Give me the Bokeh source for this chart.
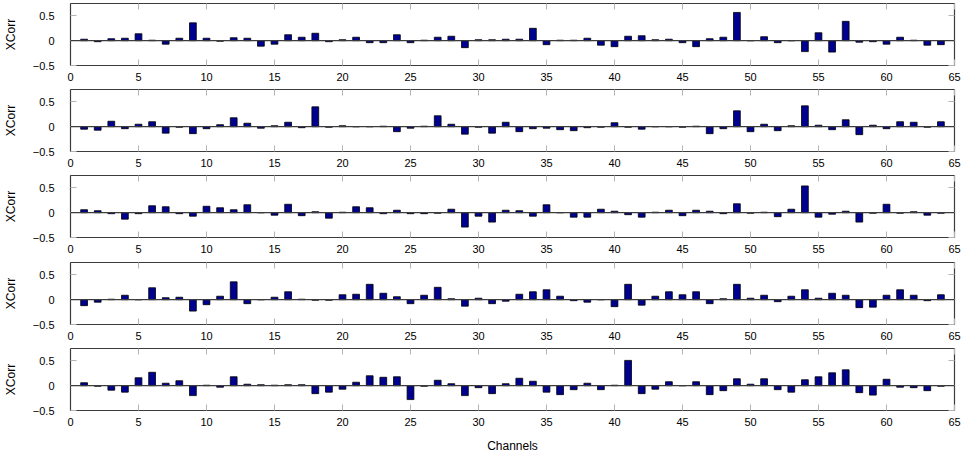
from bokeh.plotting import figure
from bokeh.layouts import column
from bokeh.models import Range1d, FixedTicker, LinearAxis, Span
from bokeh.embed import file_html
from bokeh.resources import INLINE

channels = list(range(1, 65))

xcorr_1 = [0.03, -0.02, 0.04, 0.05, 0.14, 0.01, -0.07, 0.05, 0.36, 0.05,
           -0.01, 0.06, 0.05, -0.11, -0.07, 0.12, 0.07, 0.15, -0.02, 0.02,
           0.07, -0.04, -0.04, 0.12, -0.04, 0.01, 0.07, 0.09, -0.14, 0.02,
           0.02, 0.03, 0.03, 0.25, -0.08, 0.01, 0.01, 0.05, -0.09, -0.12,
           0.09, 0.10, 0.02, 0.03, -0.04, -0.12, 0.04, 0.07, 0.57, 0.00,
           0.08, -0.04, 0.00, -0.22, 0.16, -0.23, 0.39, -0.03, -0.02, -0.07,
           0.07, 0.01, -0.09, -0.08]

xcorr_2 = [-0.05, -0.07, 0.11, -0.04, 0.05, 0.10, -0.13, -0.01, -0.14, -0.04,
           0.04, 0.18, 0.07, -0.03, 0.02, 0.09, -0.02, 0.40, -0.01, 0.02,
           0.00, 0.00, 0.01, -0.10, -0.03, 0.01, 0.22, 0.05, -0.15, -0.01,
           -0.13, 0.09, -0.10, -0.04, -0.03, -0.06, -0.08, -0.02, -0.01, 0.08,
           -0.01, -0.05, 0.00, 0.00, -0.01, 0.01, -0.14, -0.04, 0.32, -0.10,
           0.05, -0.08, 0.02, 0.42, 0.03, -0.06, 0.14, -0.16, 0.03, -0.04,
           0.10, 0.09, -0.01, 0.10]

xcorr_3 = [0.06, 0.04, -0.02, -0.13, -0.02, 0.14, 0.12, -0.02, -0.07, 0.13,
           0.10, 0.06, 0.16, 0.00, -0.05, 0.17, -0.06, 0.02, -0.11, 0.01,
           0.12, 0.10, -0.02, 0.05, -0.02, -0.02, -0.01, 0.07, -0.29, -0.07,
           -0.19, 0.05, 0.04, -0.07, 0.16, 0.00, -0.09, -0.09, 0.07, 0.03,
           -0.04, -0.09, 0.01, 0.05, -0.06, 0.05, 0.03, -0.02, 0.18, -0.01,
           0.01, -0.08, 0.07, 0.54, -0.09, -0.03, 0.03, -0.19, -0.01, 0.17,
           -0.01, 0.02, -0.05, -0.01]

xcorr_4 = [-0.12, -0.05, 0.01, 0.09, 0.00, 0.24, 0.04, 0.05, -0.23, -0.10,
           0.07, 0.36, -0.08, 0.00, 0.05, 0.16, 0.01, -0.01, -0.01, 0.10,
           0.11, 0.31, 0.13, 0.06, -0.08, 0.09, 0.25, 0.02, -0.13, 0.03,
           -0.08, -0.03, 0.11, 0.16, 0.20, 0.07, -0.02, -0.05, 0.00, -0.14,
           0.31, -0.11, 0.07, 0.16, 0.10, 0.16, -0.08, 0.02, 0.31, 0.03,
           0.09, -0.04, 0.07, 0.20, 0.03, 0.13, 0.09, -0.16, -0.15, 0.09,
           0.20, 0.09, -0.02, 0.10]

xcorr_5 = [0.06, -0.01, -0.09, -0.13, 0.16, 0.27, 0.05, 0.10, -0.20, 0.01,
           -0.03, 0.18, 0.03, 0.02, 0.01, 0.02, 0.02, -0.16, -0.13, -0.07,
           0.07, 0.20, 0.17, 0.18, -0.28, -0.01, 0.11, 0.04, -0.20, -0.04,
           -0.16, 0.04, 0.15, 0.09, -0.13, -0.18, -0.08, 0.05, -0.08, 0.01,
           0.51, -0.16, -0.07, 0.08, 0.00, 0.08, -0.18, -0.10, 0.14, 0.03,
           0.14, -0.08, -0.13, 0.12, 0.18, 0.26, 0.32, -0.14, -0.19, 0.13,
           -0.03, -0.04, -0.10, -0.01]

series = [xcorr_1, xcorr_2, xcorr_3, xcorr_4, xcorr_5]

x_ticks = list(range(0, 66, 5))
y_ticks = [-0.5, 0, 0.5]
y_tick_labels = {-0.5: "\u22120.5", 0: "0", 0.5: "0.5"}
y_label = "XCorr"
x_label = "Channels"

FONT = "Liberation Sans"
EDGE = "#3c3c3c"
TICK = "#b4b4b4"
BAR = "#000090"

heights = [86, 86, 87, 86, 111]
FRAME_H = 62
TOP = 3

figs = []
for i, vals in enumerate(series):
    last = i == len(series) - 1
    h = heights[i]
    p = figure(width=964, height=h, output_backend="svg", toolbar_location=None,
               x_range=Range1d(0, 65), y_range=Range1d(-0.5, 0.75),
               min_border_left=67, min_border_right=10, min_border_top=TOP,
               min_border_bottom=(h - FRAME_H - TOP))
    p.grid.visible = False
    p.outline_line_color = EDGE
    p.outline_line_width = 1.2
    p.background_fill_color = "white"
    p.border_fill_color = "white"

    p.vbar(x=channels, top=vals, bottom=0, width=0.5,
           fill_color=BAR, line_color="black", line_width=0.8)
    p.add_layout(Span(location=0, dimension="width", line_color=EDGE, line_width=1.2))

    xa = p.xaxis[0]
    xa.ticker = FixedTicker(ticks=x_ticks)
    xa.major_tick_in = 6
    xa.major_tick_out = 0
    xa.major_tick_line_color = TICK
    xa.minor_tick_line_color = None
    xa.axis_line_color = EDGE
    xa.major_label_text_font = FONT
    xa.major_label_text_font_size = "11px"
    xa.major_label_text_color = "black"
    xa.major_label_standoff = 7
    if last:
        xa.axis_label = x_label
        xa.axis_label_text_font = FONT
        xa.axis_label_text_font_size = "12px"
        xa.axis_label_text_font_style = "normal"
        xa.axis_label_text_color = "black"
        xa.axis_label_standoff = 10

    ya = p.yaxis[0]
    ya.ticker = FixedTicker(ticks=y_ticks)
    ya.major_label_overrides = y_tick_labels
    ya.major_tick_in = 6
    ya.major_tick_out = 0
    ya.major_tick_line_color = TICK
    ya.minor_tick_line_color = None
    ya.axis_line_color = EDGE
    ya.major_label_text_font = FONT
    ya.major_label_text_font_size = "11px"
    ya.major_label_text_color = "black"
    ya.major_label_standoff = 16
    ya.axis_label = y_label
    ya.axis_label_text_font = FONT
    ya.axis_label_text_font_size = "12px"
    ya.axis_label_text_font_style = "normal"
    ya.axis_label_text_color = "black"
    ya.axis_label_standoff = 12

    top_ax = LinearAxis(ticker=FixedTicker(ticks=x_ticks), major_tick_in=6, major_tick_out=0,
                        major_tick_line_color=TICK, minor_tick_line_color=None,
                        axis_line_color=None, major_label_text_font_size="0px",
                        major_label_text_color=None, major_label_standoff=0)
    p.add_layout(top_ax, "above")
    right_ax = LinearAxis(ticker=FixedTicker(ticks=y_ticks), major_tick_in=6, major_tick_out=0,
                          major_tick_line_color=TICK, minor_tick_line_color=None,
                          axis_line_color=None, major_label_text_font_size="0px",
                          major_label_text_color=None, major_label_standoff=0)
    p.add_layout(right_ax, "right")
    figs.append(p)

layout = column(*figs, spacing=0)
open("out.html", "w").write(file_html(layout, INLINE))
